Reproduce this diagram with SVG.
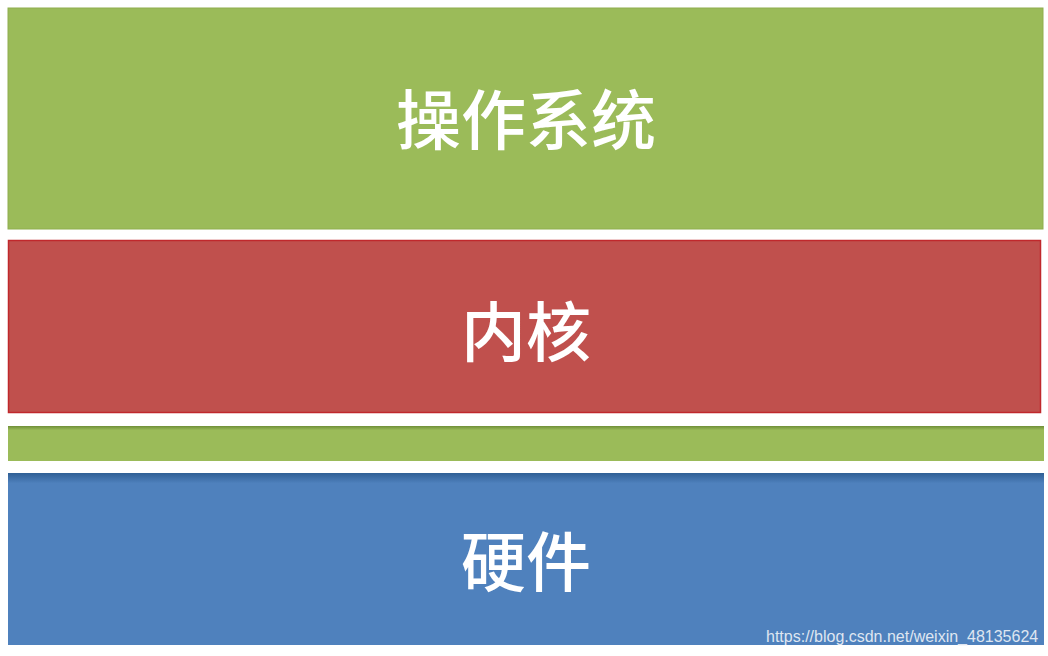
<svg xmlns="http://www.w3.org/2000/svg" width="1048" height="656" viewBox="0 0 1048 656">
<defs>
<style>
.lbl{font-family:"Noto Sans CJK SC","Noto Sans",sans-serif;font-size:65px;font-weight:500;fill:#ffffff;text-anchor:middle;}
.wm{font-family:"Liberation Sans",Arial,sans-serif;font-size:16px;fill:#dfe6f1;}
</style>
<linearGradient id="gTop" x1="0" y1="0" x2="0" y2="1">
<stop offset="0" stop-color="#6f8f38"/>
<stop offset="0.12" stop-color="#9bbb59"/>
<stop offset="1" stop-color="#9bbb59"/>
</linearGradient>
<linearGradient id="bTop" x1="0" y1="0" x2="0" y2="1">
<stop offset="0" stop-color="#2f5f95"/>
<stop offset="0.06" stop-color="#4f81bd"/>
<stop offset="1" stop-color="#4f81bd"/>
</linearGradient>
</defs>
<rect x="0" y="0" width="1048" height="656" fill="#ffffff"/>
<g id="os">
<rect x="8" y="8" width="1035" height="221" fill="#9bbb59" stroke="#8fae4f" stroke-width="1"/>
<text class="lbl" x="526" y="144">操作系统</text>
</g>
<g id="kernel">
<rect x="8.5" y="240.5" width="1032" height="172" fill="#c0504d" stroke="#c0282c" stroke-width="1.5"/>
<text class="lbl" x="526" y="356">内核</text>
</g>
<g id="layer">
<rect x="8" y="426" width="1036" height="35" fill="url(#gTop)"/>
</g>
<g id="hardware">
<rect x="8" y="473" width="1036" height="172" fill="url(#bTop)"/>
<text class="lbl" x="526" y="586">硬件</text>
</g>
<g id="connectors"></g>
<text class="wm" x="766" y="642">https://blog.csdn.net/weixin_48135624</text>
</svg>
